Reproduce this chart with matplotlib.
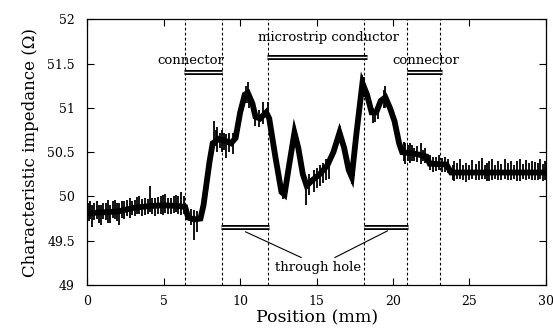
import matplotlib
matplotlib.use("Agg")
import matplotlib.pyplot as plt

plt.rcParams['font.family'] = ['DejaVu Serif']

# TDR trace (mm, ohm)
pos = [0, 1, 2, 2.5, 3, 4, 5, 6, 6.4, 6.6, 7.0, 7.4, 7.6, 8.0, 8.2, 8.6, 9.0, 9.4,
       9.7, 10.0, 10.3, 10.5, 10.8, 11.0, 11.3, 11.7, 11.9, 12.3, 12.7, 12.9, 13.2,
       13.55, 13.8, 14.1, 14.35, 14.7, 15.2, 15.7, 16.1, 16.5, 16.8, 17.1, 17.3,
       17.6, 18.0, 18.3, 18.6, 18.9, 19.2, 19.5, 19.8, 20.1, 20.4, 20.6, 21.5,
       22.2, 22.4, 23.5, 23.8, 30]
imp = [49.81, 49.82, 49.83, 49.85, 49.87, 49.89, 49.9, 49.89, 49.88, 49.76, 49.74,
       49.75, 49.9, 50.4, 50.6, 50.65, 50.63, 50.6, 50.66, 50.95, 51.15, 51.17,
       51.05, 50.9, 50.88, 50.95, 50.88, 50.45, 50.05, 50.02, 50.35, 50.72, 50.55,
       50.25, 50.12, 50.18, 50.25, 50.35, 50.5, 50.72, 50.55, 50.3, 50.22, 50.7,
       51.28, 51.15, 50.95, 50.95, 51.08, 51.12, 51.0, 50.85, 50.6, 50.5, 50.48,
       50.45, 50.37, 50.36, 50.27, 50.27]

# noise spikes: (position, low, high)
spikes = [
    (0.1, 49.72, 49.92), (0.2, 49.75, 49.95), (0.3, 49.66, 49.90), (0.45, 49.73, 49.93),
    (0.6, 49.74, 49.95), (0.75, 49.70, 49.90), (0.9, 49.68, 49.90), (1.05, 49.75, 49.93),
    (1.2, 49.73, 49.93), (1.35, 49.70, 49.96), (1.5, 49.70, 49.90), (1.65, 49.76, 49.95),
    (1.8, 49.75, 49.96), (1.95, 49.72, 49.93), (2.1, 49.68, 49.92), (2.25, 49.76, 49.95),
    (2.4, 49.74, 49.95), (2.6, 49.78, 49.96), (2.8, 49.76, 49.98), (2.95, 49.79, 49.95),
    (3.1, 49.78, 49.96), (3.25, 49.80, 49.99), (3.4, 49.80, 50.00), (3.6, 49.78, 49.97),
    (3.8, 49.79, 49.98), (3.95, 49.80, 49.97), (4.1, 49.82, 50.12), (4.25, 49.80, 49.98),
    (4.4, 49.78, 49.98), (4.6, 49.80, 49.99), (4.8, 49.80, 50.00), (4.95, 49.79, 50.02),
    (5.1, 49.81, 50.03), (5.3, 49.80, 49.98), (5.5, 49.80, 49.98), (5.65, 49.81, 50.00),
    (5.8, 49.82, 50.02), (5.95, 49.80, 50.01), (6.1, 49.79, 50.05), (6.3, 49.80, 50.00),
    (6.8, 49.68, 49.86), (7.0, 49.51, 49.85), (7.2, 49.60, 49.84),
    (8.3, 50.55, 50.85), (8.4, 50.57, 50.75), (8.5, 50.50, 50.78), (8.65, 50.55, 50.72),
    (8.8, 50.50, 50.75), (8.95, 50.52, 50.72), (9.1, 50.43, 50.70), (9.3, 50.50, 50.72),
    (9.5, 50.48, 50.72),
    (10.4, 51.05, 51.25), (10.5, 51.05, 51.29), (10.6, 51.00, 51.20), (11.0, 50.80, 51.00),
    (11.2, 50.78, 50.98), (11.5, 50.82, 51.07), (11.8, 50.85, 51.07),
    (12.8, 49.97, 50.12), (13.6, 50.62, 50.80), (14.3, 49.90, 50.22), (14.5, 50.02, 50.25),
    (14.8, 50.05, 50.30), (15.0, 50.10, 50.32), (15.2, 50.12, 50.35), (15.4, 50.15, 50.38),
    (15.6, 50.18, 50.42), (15.8, 50.20, 50.45), (16.5, 50.62, 50.80), (17.3, 50.14, 50.30),
    (18.0, 51.10, 51.37), (18.1, 51.12, 51.35), (18.7, 50.83, 51.00), (18.8, 50.84, 50.98),
    (19.0, 50.88, 51.05), (19.4, 51.00, 51.20), (19.5, 51.00, 51.25),
    (20.7, 50.40, 50.62), (20.8, 50.37, 50.60), (20.95, 50.40, 50.58), (21.1, 50.38, 50.60),
    (21.25, 50.40, 50.58), (21.4, 50.40, 50.55), (21.6, 50.39, 50.57), (21.8, 50.37, 50.60),
    (21.95, 50.40, 50.52), (22.1, 50.38, 50.55),
    (22.4, 50.30, 50.47), (22.6, 50.28, 50.45), (22.8, 50.29, 50.44), (23.0, 50.30, 50.47),
    (23.2, 50.28, 50.43), (23.4, 50.28, 50.44), (23.6, 50.27, 50.42),
    (23.9, 50.18, 50.35), (24.0, 50.17, 50.40), (24.2, 50.20, 50.38), (24.4, 50.20, 50.42),
    (24.6, 50.18, 50.36), (24.8, 50.16, 50.38), (25.0, 50.19, 50.35), (25.2, 50.20, 50.41),
    (25.4, 50.18, 50.37), (25.6, 50.18, 50.40), (25.8, 50.20, 50.43), (26.0, 50.20, 50.36),
    (26.15, 50.17, 50.38), (26.3, 50.17, 50.40), (26.5, 50.19, 50.42), (26.7, 50.20, 50.35),
    (26.9, 50.18, 50.40), (27.1, 50.18, 50.37), (27.3, 50.20, 50.42), (27.5, 50.19, 50.38),
    (27.7, 50.18, 50.40), (27.9, 50.20, 50.36), (28.1, 50.17, 50.40), (28.3, 50.17, 50.42),
    (28.5, 50.20, 50.37), (28.7, 50.18, 50.41), (28.9, 50.20, 50.38), (29.1, 50.19, 50.40),
    (29.3, 50.18, 50.39), (29.5, 50.19, 50.38), (29.65, 50.20, 50.42), (29.8, 50.17, 50.37),
    (29.95, 50.18, 50.40),
]

# boundaries of connector / through hole / microstrip
bounds = [6.42, 8.8, 11.85, 18.1, 20.93, 23.1]

top_labels = ['connector', 'microstrip conductor', 'connector']
top_x = [6.75, 15.8, 22.15]
top_y = [51.54, 51.8, 51.54]
top_bar_start = [6.35, 11.74, 20.93]
top_bar_end = [8.78, 18.28, 23.18]
top_bar_y = [51.41, 51.58, 51.41]

hole_bar_start = [8.76, 18.1]
hole_bar_end = [11.9, 20.95]
hole_bar_y = 49.66
leader_from = [(10.35, 49.60), (19.63, 49.61)]
leader_to = [(13.99, 49.31), (16.2, 49.31)]

fig = plt.figure(figsize=(5.53, 3.29), dpi=100)
ax = fig.add_axes([0.158, 0.134, 0.829, 0.807])

ax.plot(pos, imp, color='black', lw=4.2, solid_joinstyle='miter')
sx = [s[0] for s in spikes]
slo = [s[1] for s in spikes]
shi = [s[2] for s in spikes]
ax.vlines(sx, slo, shi, color='black', lw=1.3)

for b in bounds:
    ax.axvline(b, color='black', lw=0.8, ls=(0, (2.5, 2)))

# double-line bars
for x0, x1, y in zip(top_bar_start, top_bar_end, top_bar_y):
    ax.plot([x0, x1], [y, y], color='black', lw=3.6, solid_capstyle='butt')
    ax.plot([x0, x1], [y, y], color='white', lw=1.0, solid_capstyle='butt')
for x0, x1 in zip(hole_bar_start, hole_bar_end):
    ax.plot([x0, x1], [hole_bar_y, hole_bar_y], color='black', lw=3.6, solid_capstyle='butt')
    ax.plot([x0, x1], [hole_bar_y, hole_bar_y], color='white', lw=1.0, solid_capstyle='butt')

for lab, x, y in zip(top_labels, top_x, top_y):
    ax.text(x, y, lab, ha='center', va='center', fontsize=9.5)

for (xa, ya), (xb, yb) in zip(leader_from, leader_to):
    ax.plot([xa, xb], [ya, yb], color='black', lw=0.8)
ax.text(15.1, 49.2, 'through hole', ha='center', va='center', fontsize=9.5)

ax.set_xlim(0, 30)
ax.set_ylim(49, 52)
ax.set_xticks([0, 5, 10, 15, 20, 25, 30])
ax.set_yticks([49, 49.5, 50, 50.5, 51, 51.5, 52])
ax.set_yticklabels(['49', '49.5', '50', '50.5', '51', '51.5', '52'])
ax.tick_params(direction='in', top=True, right=True, length=5, width=0.8, labelsize=9)
ax.tick_params(axis='y', pad=9)
ax.tick_params(axis='x', pad=7)
for s in ax.spines.values():
    s.set_linewidth(0.9)

ax.set_xlabel('Position (mm)', fontsize=12.5, labelpad=1)
ax.set_ylabel('Characteristic impedance (\u03a9)', fontsize=12, labelpad=6)

fig.savefig('out.png', dpi=100)
